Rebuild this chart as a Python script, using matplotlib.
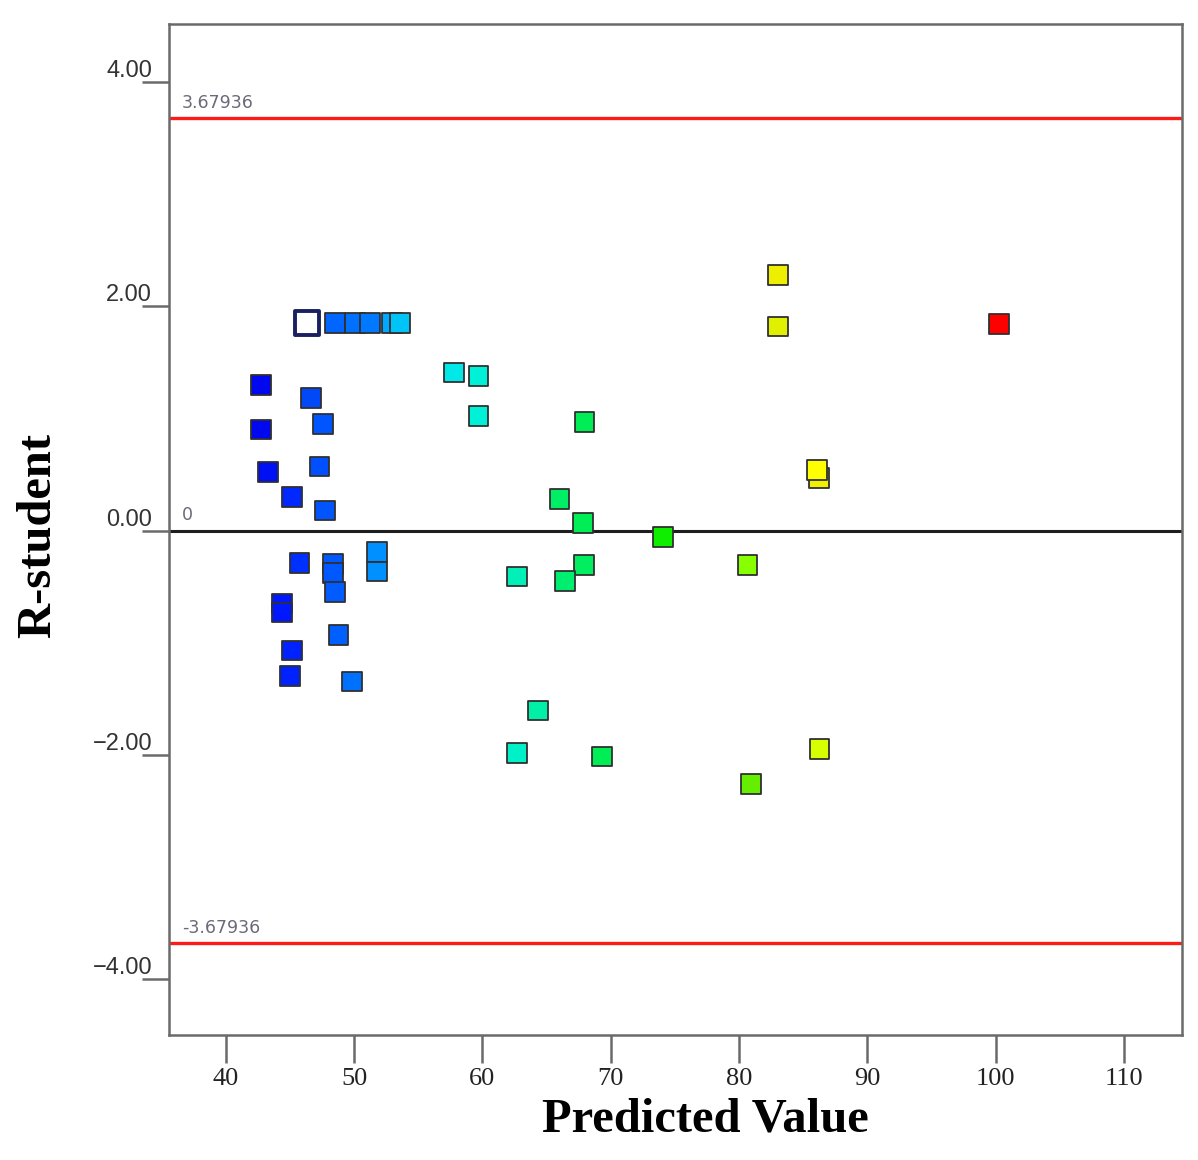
import numpy as np
import matplotlib
matplotlib.use('Agg')
import matplotlib.pyplot as plt

# predicted value vs externally studentized residual
pred = [42.75, 42.75, 43.3, 45.14, 47.74, 47.3, 47.6, 46.65,
        48.52, 50.08, 51.25, 52.94, 53.6,
        45.74, 48.34, 48.34, 48.5, 51.77, 51.77, 44.36, 44.36,
        48.78, 45.14, 45.0, 49.82,
        57.8, 59.69, 59.69, 67.95, 66.0, 67.82, 74.1, 67.93, 66.45,
        62.68, 64.32, 62.68, 69.3, 80.94, 86.27, 83.02, 83.02,
        100.27, 86.24, 86.06, 80.65]
rstud = [1.30, 0.90, 0.52, 0.30, 0.18, 0.57, 0.95, 1.18,
         1.85, 1.85, 1.85, 1.85, 1.85,
         -0.29, -0.30, -0.38, -0.55, -0.19, -0.365, -0.65, -0.73,
         -0.93, -1.07, -1.295, -1.346,
         1.41, 1.38, 1.02, 0.97, 0.28, 0.07, -0.06, -0.305, -0.45,
         -0.41, -1.605, -1.985, -2.015, -2.26, -1.95, 2.28, 1.82,
         1.845, 0.47, 0.54, -0.31]
point_colors = ['#0008f0', '#0008f0', '#0010f5', '#0028ff', '#0055ff', '#0050ff', '#0055ff', '#0048f8',
                '#0066ff', '#0070ff', '#0078ff', '#00a8ff', '#00c4f5',
                '#0030ff', '#0058ff', '#0058ff', '#005cff', '#0090ff', '#0090ff', '#0018ff', '#0018ff',
                '#0060ff', '#0022ff', '#0022ff', '#0070ff',
                '#00e8e8', '#00f0d8', '#00f0d8', '#00ee55', '#00ee66', '#00ee55', '#10ee00', '#00ee60', '#00ee70',
                '#00f0b8', '#00f0a8', '#00f0c8', '#00ee55', '#66ee00', '#d8ff00', '#eeee00', '#e0f000',
                '#ff0000', '#f0f000', '#ffff00', '#88ff00']

# the highlighted (selected) run
sel_pred, sel_rstud = 46.36, 1.85

limit = 3.67936
yticks = [-4, -2, 0, 2, 4]
ytick_labels = ['\u22124.00', '\u22122.00', '0.00', '2.00', '4.00']
xticks = [40, 50, 60, 70, 80, 90, 100, 110]

fig = plt.figure(figsize=(11.98, 11.6), dpi=100)
ax = fig.add_axes([0.1413, 0.1078, 0.8451, 0.8716])

ax.axhline(limit, color='#ff1a1a', lw=2.4, zorder=2)
ax.axhline(-limit, color='#ff1a1a', lw=2.4, zorder=2)
ax.axhline(0, color='#1e1e1e', lw=2.2, zorder=2)

ax.scatter(pred, rstud, c=point_colors, marker='s', s=200,
           edgecolors='#303030', linewidths=1.3, zorder=3)
ax.scatter([sel_pred], [sel_rstud], c='white', marker='s', s=290,
           edgecolors='#1a2060', linewidths=2.8, zorder=4)

for val, txt in [(limit, '3.67936'), (-limit, '-3.67936'), (0, '0')]:
    ax.annotate(txt, xy=(0, val), xycoords=('axes fraction', 'data'),
                xytext=(9, 4.5), textcoords='offset points',
                ha='left', va='bottom', fontsize=12.5, color='#6a6a78',
                family='DejaVu Sans')

ax.set_xlim(35.6, 114.5)
ax.set_ylim(-4.50, 4.52)

ax.set_xticks(xticks)
ax.set_yticks(yticks, labels=ytick_labels)

for sp in ax.spines.values():
    sp.set_color('#6a6a6a')
    sp.set_linewidth(1.8)

ax.tick_params(axis='x', length=20, width=1.8, color='#6a6a6a', pad=3.5,
               labelsize=19, labelcolor='#222222')
ax.tick_params(axis='y', length=19.5, width=1.8, color='#6a6a6a', pad=-7.2,
               labelsize=17, labelcolor='#333333')
for lab in ax.get_xticklabels():
    lab.set_family('Liberation Serif')
for lab in ax.get_yticklabels():
    lab.set_family('Liberation Sans')
    lab.set_va('bottom')

fig.text(705 / 1198, 1 - 1120 / 1160, 'Predicted Value', ha='center', va='center',
         fontsize=35, fontweight='bold', family='Liberation Serif')
fig.text(38 / 1198, 1 - 536 / 1160, 'R-student', ha='center', va='center', rotation=90,
         fontsize=35, fontweight='bold', family='Liberation Serif')

fig.savefig('out.png', dpi=100)
